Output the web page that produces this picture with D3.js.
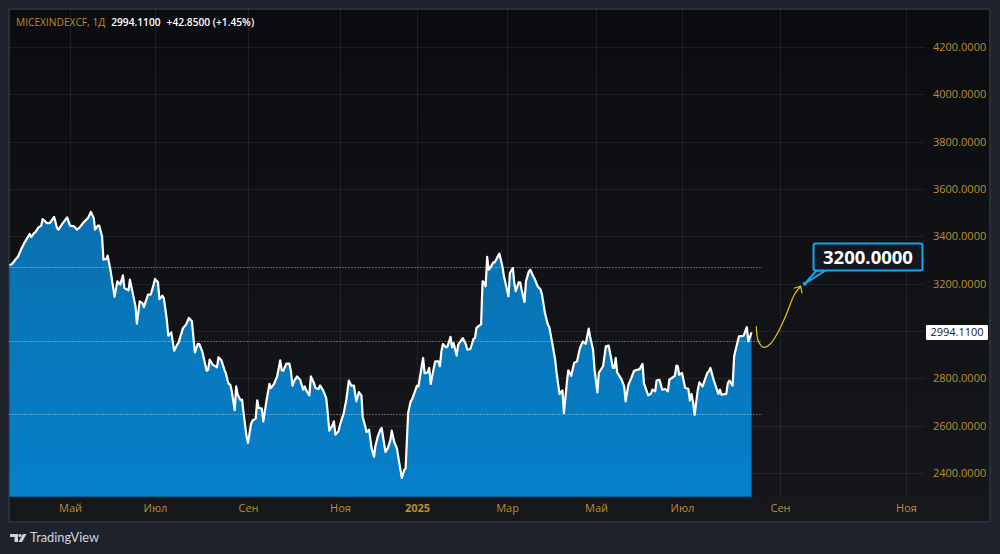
<!DOCTYPE html>
<html><head><meta charset="utf-8">
<script src="https://cdn.jsdelivr.net/npm/d3@7/dist/d3.min.js"></script>
<style>html,body{margin:0;padding:0;background:#1e222d;overflow:hidden}svg{display:block}text{font-family:"Open Sans","Noto Sans",sans-serif}</style>
</head><body><div id="c"></div>
<script>
// days since 2024-03-20
const days=[0,2,4,6,8,10,12,14,15,17,18,20,22,23,26,28,31,33,34,37,40,42,45,47,49,51,53,55,57,59,60,62,63,65,66,68,69,71,74,76,78,80,81,84,85,87,89,90,92,94,95,98,100,102,103,105,106,108,109,111,112,114,116,118,119,122,124,126,128,130,132,133,135,138,139,140,142,145,146,148,150,151,152,153,154,155,157,158,159,161,162,163,165,166,168,169,171,172,173,175,176,178,180,181,183,185,187,188,189,191,193,194,195,196,198,200,202,203,204,206,207,209,210,212,213,215,217,218,219,221,222,223,225,226,229,231,233,235,237,239,241,243,244,246,247,249,251,253,254,256,258,259,262,264,266,267,269,271,273,275,277,278,279,280,282,283,287,288,289,291,292,294,295,296,298,299,301,302,303,304,306,307,309,310,311,313,314,317,319,320,322,324,325,326,328,329,330,331,332,333,334,335,337,338,340,341,343,344,345,347,348,350,351,352,354,355,356,358,359,361,362,364,365,367,369,370,372,374,375,377,379,380,382,384,385,387,388,390,392,394,396,398,400,402,403,405,406,408,409,412,414,416,417,419,420,421,422,425,427,428,430,432,434,438,440,441,444,446,447,449,450,452,454,456,458,459,463,464,465,466,468,470,472,473,474,475,476,478,479,481,484,485,486,488,491,492,493,496,497,498,500,501,503,504,507,509,510,512];
const closes=[3277,3285,3301,3315,3344,3369,3389,3410,3397,3414,3418,3437,3445,3473,3456,3456,3482,3435,3428,3456,3480,3445,3442,3428,3438,3454,3466,3478,3503,3478,3428,3445,3445,3400,3301,3304,3318,3259,3144,3210,3196,3235,3182,3172,3217,3161,3104,3031,3125,3118,3101,3154,3154,3196,3220,3206,3135,3149,3139,3048,2980,2994,2917,2942,2952,3013,3027,3055,3041,2910,2946,2945,2914,2832,2837,2879,2858,2846,2889,2876,2837,2822,2794,2776,2773,2745,2665,2766,2731,2707,2710,2654,2555,2527,2608,2622,2630,2707,2675,2672,2618,2703,2777,2759,2777,2808,2876,2834,2832,2862,2862,2830,2769,2787,2808,2794,2752,2766,2749,2728,2808,2780,2759,2755,2770,2749,2717,2654,2579,2600,2618,2562,2576,2604,2654,2710,2790,2769,2769,2703,2742,2727,2637,2597,2573,2583,2506,2468,2513,2555,2583,2590,2489,2506,2541,2579,2530,2506,2442,2379,2414,2420,2541,2654,2703,2710,2769,2766,2808,2886,2822,2825,2844,2776,2844,2872,2872,2851,2914,2945,2931,2935,2975,2931,2949,2896,2942,2970,2945,2921,2924,2966,2970,3013,3024,3027,3210,3206,3189,3313,3259,3266,3290,3290,3316,3327,3273,3231,3203,3147,3245,3266,3203,3168,3206,3206,3175,3123,3210,3252,3259,3231,3220,3189,3175,3154,3076,3027,3017,2949,2879,2823,2734,2749,2653,2780,2834,2811,2865,2872,2928,2956,2946,3010,2975,2921,2837,2741,2823,2851,2935,2938,2907,2844,2844,2886,2825,2797,2766,2703,2773,2801,2832,2839,2861,2780,2728,2735,2752,2745,2791,2794,2752,2755,2745,2794,2811,2854,2851,2815,2823,2759,2756,2706,2734,2699,2646,2752,2783,2766,2823,2830,2844,2794,2734,2752,2731,2734,2780,2790,2769,2893,2949,2977,2980,3016,2956,2994.11];
const priceTicks=[2400,2600,2800,3000,3200,3400,3600,3800,4000,4200];
const hiddenPriceLabel=3000; // covered by the last-price tag
const monthDays=[42,103,166,226,287,346,407,468,530,591];
const monthLabels=["Май","Июл","Сен","Ноя","2025","Мар","Май","Июл","Сен","Ноя"];
const levels=[3270,2959,2648];
const levelEndDay=519;
const forecastDays=[515,516,518.5,520.5,524,529,533,537,540];
const forecastValues=[3020,2963,2935,2931,2946,2998,3069,3154,3189];
const targetDay=542, targetValue=3200, targetLabel="3200.0000";
const lastValue=2994.11;

const W=1000,H=554,L=9,T=9,R=990,PB=497,B=522,PR=925;
const GOLD="#bd8f2f";
const x=d3.scaleLinear().domain([0,...monthDays]).range([9.5,70,155,248,340,417,507,596,682,780,906]);
const y=d3.scaleLinear().domain([2400,4200]).range([473,47]);
const svg=d3.select("#c").append("svg").attr("width",W).attr("height",H);
const defs=svg.append("defs");
const g1=defs.append("linearGradient").attr("id","bg").attr("x1",0).attr("x2",0).attr("y1",0).attr("y2",1);
g1.append("stop").attr("offset",0).attr("stop-color","#0b0c0f");
g1.append("stop").attr("offset",1).attr("stop-color","#15171b");
const g2=defs.append("linearGradient").attr("id","fill").attr("gradientUnits","userSpaceOnUse").attr("x1",0).attr("x2",0).attr("y1",y(3500)).attr("y2",PB);
g2.append("stop").attr("offset",0).attr("stop-color","#0a70ae");
g2.append("stop").attr("offset",1).attr("stop-color","#0580ca");

svg.append("rect").attr("width",W).attr("height",H).attr("fill","#1e222d");
svg.append("rect").attr("x",L).attr("y",T).attr("width",R-L).attr("height",B-T).attr("fill","url(#bg)").attr("stroke","#2a2e39").attr("stroke-width",2);

// grid
const grid=svg.append("g").attr("stroke","#ffffff").attr("stroke-opacity",0.07);
grid.selectAll("line.h").data(priceTicks).join("line").attr("x1",L).attr("x2",PR).attr("y1",d=>Math.round(y(d))+.5).attr("y2",d=>Math.round(y(d))+.5);
grid.selectAll("line.v").data(monthDays).join("line").attr("x1",d=>Math.round(x(d))+.5).attr("x2",d=>Math.round(x(d))+.5).attr("y1",T).attr("y2",PB);

// area + line
const pts=days.map((d,i)=>[d,closes[i]]);
svg.append("path").datum(pts).attr("fill","url(#fill)")
  .attr("d",d3.area().x(d=>x(d[0])).y0(PB).y1(d=>y(d[1])));
// level lines
svg.append("g").selectAll("line").data(levels).join("line")
  .attr("x1",9.5).attr("x2",x(levelEndDay)).attr("y1",d=>Math.round(y(d))+.5).attr("y2",d=>Math.round(y(d))+.5)
  .attr("stroke","#ffffff").attr("stroke-opacity",.65).attr("stroke-dasharray","1 2");
svg.append("path").datum(pts).attr("fill","none").attr("stroke","#ffffff").attr("stroke-width",2.2).attr("stroke-linejoin","round")
  .attr("d",d3.line().x(d=>x(d[0])).y(d=>y(d[1])));
svg.append("line").attr("x1",9.5).attr("x2",x(days[days.length-1])).attr("y1",PB).attr("y2",PB).attr("stroke","#0d3a5c");

// axes
const ay=svg.append("g").attr("transform",`translate(${PR},0)`).call(d3.axisRight(y).tickValues(priceTicks).tickFormat(d=>d===hiddenPriceLabel?"":d.toFixed(4)).tickSize(0).tickPadding(8));
ay.select(".domain").remove();
ay.selectAll("text").attr("fill",GOLD).attr("font-size",11);
const ax=svg.append("g").attr("transform",`translate(0,${PB})`).call(d3.axisBottom(x).tickValues(monthDays).tickFormat((d,i)=>monthLabels[i]).tickSize(0).tickPadding(7));
ax.select(".domain").remove();
ax.selectAll("text").attr("fill",GOLD).attr("font-size",11).attr("font-weight",(d,i)=>monthLabels[i]==="2025"?700:400);

// last price label
svg.append("rect").attr("x",926).attr("y",y(lastValue)-7.5).attr("width",62).attr("height",15).attr("fill","#ffffff").attr("rx",1);
svg.append("text").attr("x",957).attr("y",y(lastValue)+4).attr("text-anchor","middle").attr("font-size",11).attr("fill","#131722").text(lastValue.toFixed(4));

// forecast curve
const fpts=forecastDays.map((d,i)=>[x(d),y(forecastValues[i])]);
svg.append("path").attr("fill","none").attr("stroke","#e3c51f").attr("stroke-width",1.2)
  .attr("d",d3.line().curve(d3.curveCatmullRom)(fpts));
const tip=fpts[fpts.length-1];
svg.append("path").attr("fill","none").attr("stroke","#e3c51f").attr("stroke-width",1.2)
  .attr("d",`M${tip[0]-7},${tip[1]+2}L${tip[0]},${tip[1]}L${tip[0]+1.5},${tip[1]+7}`);

// callout
const tx=x(targetDay),ty=y(targetValue);
const bx=813.5,by=243.5,bw=109,bh=27;
svg.append("path").attr("d",`M${tx},${ty}L${bx+3},${by+bh}L${bx+12},${by+bh}Z`).attr("fill","#131722").attr("stroke","#1aa3ea").attr("stroke-width",2).attr("stroke-linejoin","round");
svg.append("circle").attr("cx",tx).attr("cy",ty).attr("r",2).attr("fill","#1aa3ea");
svg.append("rect").attr("x",bx).attr("y",by).attr("width",bw).attr("height",bh).attr("rx",2).attr("fill","#131722").attr("stroke","#1aa3ea").attr("stroke-width",2);
svg.append("text").attr("x",bx+bw/2).attr("y",by+20).attr("text-anchor","middle").attr("font-size",18.5).attr("font-weight",700).attr("fill","#ffffff").text(targetLabel);

// header
const h=svg.append("text").attr("x",16).attr("y",26).attr("font-size",10.2);
h.append("tspan").attr("fill",GOLD).text("MICEXINDEXCF, 1Д");
h.append("tspan").attr("dx",6).attr("fill","#ffffff").attr("font-weight",600).text("2994.1100");
h.append("tspan").attr("dx",6).attr("fill","#ffffff").attr("font-weight",600).text("+42.8500 (+1.45%)");

// logo
const lg=svg.append("g").attr("fill","#d1d4dc");
lg.append("path").attr("d","M10,534H18V542H14.5V537H10Z");
lg.append("circle").attr("cx",20).attr("cy",535.5).attr("r",1.6);
lg.append("path").attr("d","M23,534H26.5L22,542H18.5Z");
svg.append("text").attr("x",30).attr("y",542).attr("font-size",12.8).attr("fill","#d1d4dc").attr("style",'font-family:Lato').text("TradingView");
</script></body></html>
